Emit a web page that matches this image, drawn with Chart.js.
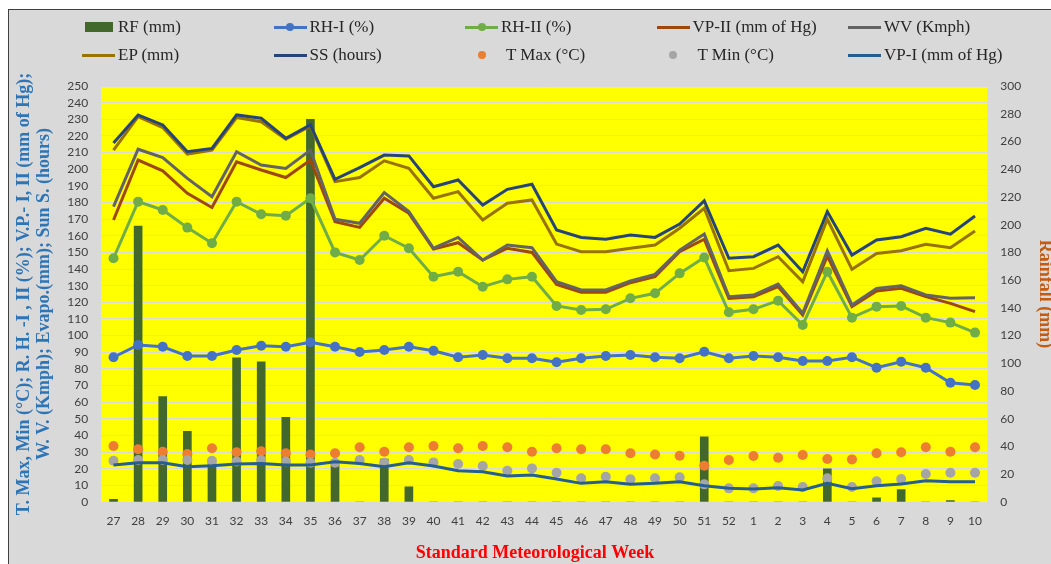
<!DOCTYPE html>
<html>
<head>
<meta charset="utf-8">
<script src="https://cdn.jsdelivr.net/npm/chart.js@4.4.1/dist/chart.umd.min.js"></script>
<style>
    html, body { margin: 0; padding: 0; background: #fff; width: 1051px; height: 564px; overflow: hidden; }
    #frame { position: absolute; left: 8px; top: 9px; width: 1100px; height: 600px; background: #d9d9d9; border-left: 1px solid #404040; border-top: 1px solid #404040; }
    #chart { position: absolute; left: 0; top: 0; }
    #legend { position: absolute; left: 73px; top: 3px; display: grid; grid-template-columns: repeat(5, 191.5px); grid-auto-rows: 28px; font-family: "Liberation Serif", serif; font-size: 17px; color: #262626; }
    .item { display: flex; align-items: center; white-space: nowrap; }
    .sym { position: relative; width: 33px; height: 12px; margin-right: 3px; flex: none; }
    .sym .bar { position: absolute; left: 3px; top: 1px; width: 28px; height: 10px; }
    .sym .ln { position: absolute; left: 0; top: 4.5px; width: 33px; height: 3px; }
    .sym .dot { position: absolute; left: 12.5px; top: 2px; width: 8px; height: 8px; border-radius: 50%; }
</style>
</head>
<body>
<div id="frame">
    <canvas id="chart" width="1052" height="554"></canvas>
    <div id="legend"></div>
</div>
<script>
    const weeks = ['27', '28', '29', '30', '31', '32', '33', '34', '35', '36', '37', '38', '39', '40', '41', '42', '43', '44',
        '45', '46', '47', '48', '49', '50', '51', '52', '1', '2', '3', '4', '5', '6', '7', '8', '9', '10'];

    const rf = [2, 199, 76, 51, 28, 104, 101, 61, 276, 27, 0, 31, 11, 0, 0, 0, 0, 0,
        0, 0, 0, 0, 0, 0, 47, 0, 0, 0, 0, 24, 0, 3, 9, 0, 1, 0];
    const rhI = [87, 94.4, 93.3, 87.7, 87.7, 91.3, 93.9, 93.3, 96, 93.3, 90.1, 91.3, 93.3, 90.9, 87, 88.3, 86.4, 86.4,
        84, 86.4, 87.7, 88.3, 87, 86.4, 90.3, 86.4, 87.7, 87, 84.7, 84.7, 87, 80.7, 84.3, 80.7, 71.7, 70.3];
    const rhII = [146.5, 180.5, 175.5, 164.9, 155.5, 180.5, 172.9, 172.1, 182.5, 150, 145.4, 160, 152.5, 135.4, 138.4, 129.4, 133.8, 135.4,
        117.8, 115.4, 115.8, 122.4, 125.4, 137.4, 146.9, 114, 115.8, 121, 106.4, 138.4, 110.8, 117.4, 117.8, 110.8, 107.8, 101.8];
    const vpII = [169.5, 205.5, 199, 185.5, 177, 204.5, 199.5, 195, 205.5, 168.5, 165, 182.5, 173.5, 152, 155.8, 145.4, 152.5, 150,
        130.8, 126, 126, 131.8, 135.4, 150.4, 157.9, 122.4, 123.4, 129.4, 112.4, 147.8, 117.4, 126.8, 128.4, 123.4, 119.4, 114.4];
    const wv = [177.5, 212, 207, 194.5, 183.5, 210.5, 202.5, 200.5, 211.5, 169.9, 167.5, 185.9, 174.5, 152.5, 159, 145.4, 154.4, 152.8,
        132.4, 127.4, 127.4, 132.8, 136.8, 151.4, 161, 123.4, 124.4, 131, 113.4, 151, 118.4, 128.4, 130, 124.4, 122.4, 122.8];
    const ep = [211.5, 231.6, 225, 209, 211.5, 231, 228.5, 218, 226, 192.5, 195, 205, 200.5, 182.5, 186.5, 169.5, 179.5, 181.5,
        155, 150.4, 150.4, 152.5, 154.4, 164.5, 176.5, 139, 140.4, 147.4, 132.4, 169.9, 139.8, 149.4, 151, 154.9, 152.8, 162.9];
    const ss = [215.7, 232.6, 226.6, 210.5, 212.5, 232.6, 230.6, 218.6, 226.6, 193.9, 201, 208.5, 208, 189.5, 193.5, 178.5, 187.9, 191,
        163.5, 159, 157.9, 160.5, 159, 167, 181, 146.5, 147.4, 154.4, 138.4, 174.5, 148.4, 157.5, 159.4, 164.5, 161, 171.9];
    const tMax = [33.7, 31.7, 30.2, 28.8, 32.3, 29.9, 30.5, 29.3, 28.5, 29.3, 32.9, 30.2, 32.9, 33.7, 32.3, 33.7, 32.9, 30.2,
        32.3, 31.7, 31.7, 29.3, 28.5, 27.8, 21.8, 25.2, 27.6, 26.6, 28.2, 25.8, 25.6, 29.3, 29.9, 32.9, 30.2, 32.9];
    const tMin = [24.8, 25.2, 25.2, 25.2, 24.8, 24.4, 25.2, 24.4, 23.6, 23.6, 25.2, 23.6, 25.2, 23.8, 22.8, 21.6, 18.8, 20.2,
        17.6, 14.2, 15.2, 13.6, 14.2, 14.8, 10.6, 8.2, 8.2, 9.6, 9, 14.2, 9, 12.4, 13.8, 16.8, 17.6, 17.6];
    const vpI = [22.2, 23.6, 23.6, 21.2, 21.8, 22.8, 23.2, 22.2, 22.2, 24.2, 23.2, 21.2, 23.6, 21.6, 18.8, 18.2, 15.6, 16.2,
        13.8, 11.2, 12.2, 10.6, 11.2, 12.2, 9.8, 8.2, 7.8, 8.6, 7.2, 11.2, 8, 9.8, 10.8, 12.8, 12.2, 12.2];

    const leftTitle = ['T. Max, Min (°C); R. H. -I , II (%); V.P.- I, II (mm of Hg);',
        'W. V. (Kmph); Evapo.(mm); Sun S. (hours)'];

    Chart.defaults.font.family = 'Lato';

    // plain line, line with markers, or markers only
    function lineSet(label, data, color, kind, order) {
        return {
            type: 'line',
            label: label,
            data: data,
            borderColor: color,
            backgroundColor: color,
            borderWidth: 3,
            pointRadius: kind === 'line' ? 0 : 5,
            pointBorderWidth: 0,
            showLine: kind !== 'dots',
            tension: 0,
            fill: false,
            yAxisID: 'y',
            order: order,
            legendKind: kind
        };
    }

    const yellowArea = {
        id: 'yellowArea',
        beforeDraw(chart) {
            const a = chart.chartArea;
            const c = chart.ctx;
            c.save();
            c.fillStyle = '#ffff00';
            c.fillRect(a.left, a.top, a.width, a.height);
            c.restore();
        }
    };

    const serif = '"Liberation Serif", "Times New Roman", serif';
    const tickStyle = { color: '#404040', font: { family: 'Lato', size: 12 } };

    const chart = new Chart(document.getElementById('chart').getContext('2d'), {
        type: 'bar',
        data: {
            labels: weeks,
            datasets: [
                { type: 'bar', label: 'RF (mm)', data: rf, backgroundColor: '#43682b', barThickness: 8, yAxisID: 'y1', order: 20, legendKind: 'bar' },
                lineSet('RH-I (%)', rhI, '#4472c4', 'marker', 9),
                lineSet('RH-II (%)', rhII, '#70ad47', 'marker', 8),
                lineSet('VP-II (mm of Hg)', vpII, '#9e480e', 'line', 7),
                lineSet('WV (Kmph)', wv, '#636363', 'line', 6),
                lineSet('EP (mm)', ep, '#997300', 'line', 5),
                lineSet('SS (hours)', ss, '#264478', 'line', 4),
                lineSet('T Max (°C)', tMax, '#ed7d31', 'dots', 3),
                lineSet('T Min (°C)', tMin, '#a5a5a5', 'dots', 2),
                lineSet('VP-I (mm of Hg)', vpI, '#255e91', 'line', 1)
            ]
        },
        options: {
            responsive: false,
            animation: false,
            layout: { padding: { top: 76, left: 0, right: 0, bottom: 0 } },
            plugins: {
                legend: { display: false },
                tooltip: { enabled: false },
                title: {
                    display: true,
                    position: 'bottom',
                    text: 'Standard Meteorological Week',
                    color: '#ff0000',
                    font: { family: serif, size: 18, weight: 'bold' },
                    padding: { top: 2, bottom: 0 }
                }
            },
            scales: {
                x: {
                    grid: { display: false, drawTicks: false },
                    border: { display: false },
                    ticks: Object.assign({ padding: 12, autoSkip: false, maxRotation: 0 }, tickStyle)
                },
                y: {
                    position: 'left',
                    min: 0,
                    max: 250,
                    grid: { color: '#d9d9d9', drawTicks: false },
                    border: { display: false },
                    ticks: Object.assign({ stepSize: 10, padding: 13, autoSkip: false }, tickStyle),
                    title: {
                        display: true,
                        text: leftTitle,
                        color: '#2e75b6',
                        font: { family: serif, size: 18, weight: 'bold', lineHeight: 1.12 },
                        padding: { top: 5, bottom: 0 }
                    }
                },
                y1: {
                    position: 'right',
                    min: 0,
                    max: 300,
                    grid: { drawOnChartArea: false, drawTicks: false },
                    border: { display: false },
                    ticks: Object.assign({ stepSize: 20, padding: 13, autoSkip: false }, tickStyle),
                    title: {
                        display: true,
                        text: 'Rainfall (mm)',
                        color: '#c55a11',
                        font: { family: serif, size: 18, weight: 'bold', lineHeight: 1.1 },
                        padding: { top: 6, bottom: 1 }
                    }
                }
            }
        },
        plugins: [yellowArea]
    });

    // legend laid out as a 5 x 2 grid like the original
    const legendBox = document.getElementById('legend');
    chart.data.datasets.forEach(function (ds) {
        const item = document.createElement('div');
        item.className = 'item';
        const sym = document.createElement('span');
        sym.className = 'sym';
        const color = ds.backgroundColor;
        if (ds.legendKind === 'bar') {
            sym.innerHTML = '<span class="bar" style="background:' + color + '"></span>';
        } else if (ds.legendKind === 'dots') {
            sym.innerHTML = '<span class="dot" style="background:' + color + '"></span>';
            sym.style.marginRight = '8px';
        } else {
            let html = '<span class="ln" style="background:' + color + '"></span>';
            if (ds.legendKind === 'marker') {
                html += '<span class="dot" style="background:' + color + '"></span>';
            }
            sym.innerHTML = html;
        }
        const text = document.createElement('span');
        text.textContent = ds.label;
        item.appendChild(sym);
        item.appendChild(text);
        legendBox.appendChild(item);
    });
</script>
</body>
</html>
